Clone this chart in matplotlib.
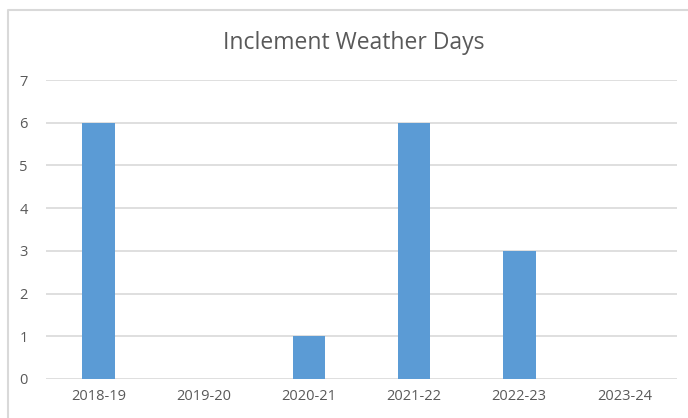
import matplotlib.pyplot as plt
from matplotlib.lines import Line2D

seasons = ['2018-19', '2019-20', '2020-21', '2021-22', '2022-23', '2023-24']
days = [6, 0, 1, 6, 3, 0]
y_ticks = [0, 1, 2, 3, 4, 5, 6, 7]

W, H = 688, 418
fig = plt.figure(figsize=(W / 100, H / 100), dpi=100)
plt.rcParams['font.family'] = ['Open Sans', 'DejaVu Sans']

# plot area in pixels: x 46..677, y 80..379
ax = fig.add_axes([46 / W, 1 - 379 / H, (677 - 46) / W, (379 - 80) / H])

x = range(len(seasons))
ax.bar(x, days, width=0.31, color='#5b9bd5', zorder=3)

ax.set_xlim(-0.5, len(seasons) - 0.5)
ax.set_ylim(0, 7)
ax.set_yticks(y_ticks)
ax.set_xticks(list(x))
ax.set_xticklabels(seasons)
for t in y_ticks:
    ax.axhline(t, color='#d9d9d9', linewidth=1.2, zorder=1)

for s in ax.spines.values():
    s.set_visible(False)
ax.tick_params(length=0, colors='#595959', labelsize=10.5)
ax.tick_params(axis='y', pad=13)
ax.tick_params(axis='x', pad=7)

fig.text(354 / W, 1 - 43 / H, 'Inclement Weather Days', ha='center', va='center',
         fontsize=16.5, color='#595959')

# chart border (left and top only are visible)
bx, by = 7.5 / W, 1 - 9.5 / H
fig.lines.append(Line2D([bx, bx, 1.0], [0.0, by, by], transform=fig.transFigure,
                        color='#d9d9d9', linewidth=1.5))

fig.savefig('out.png', dpi=100)
